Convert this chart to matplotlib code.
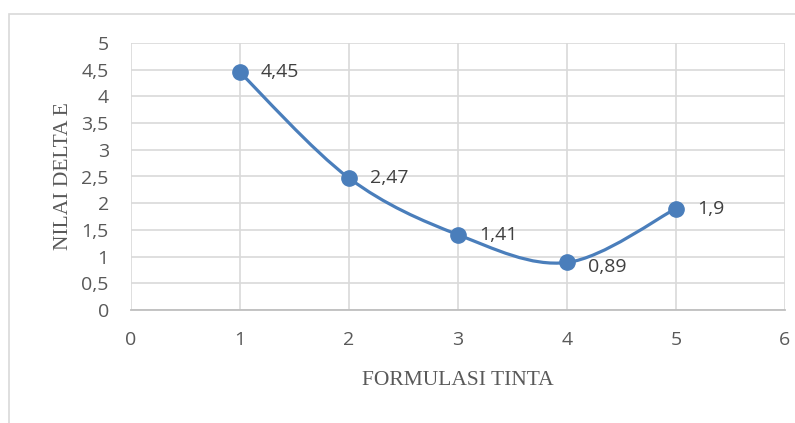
import matplotlib
matplotlib.use("Agg")
import matplotlib.pyplot as plt
import numpy as np
from matplotlib.path import Path
from matplotlib.patches import PathPatch, Rectangle

formulasi = [1, 2, 3, 4, 5]
delta_e = [4.45, 2.47, 1.41, 0.89, 1.9]
labels = ["4,45", "2,47", "1,41", "0,89", "1,9"]
x_ticks = [0, 1, 2, 3, 4, 5, 6]
y_ticks = [0, 0.5, 1, 1.5, 2, 2.5, 3, 3.5, 4, 4.5, 5]

BLUE = "#4a7ebb"
GRID = "#d9d9d9"
TEXT = "#595959"

fig = plt.figure(figsize=(7.95, 4.23), dpi=100)
ax = fig.add_axes([131 / 795, 1 - 310 / 423, (785 - 131) / 795, (310 - 43) / 423])

# chart frame
fig.patches.append(Rectangle((9 / 795, -0.05), 1.1, 1 - 14 / 423 + 0.05,
                             transform=fig.transFigure, fill=False,
                             edgecolor="#d9d9d9", linewidth=1.2))

# smoothed line (Catmull-Rom style cubic Bezier segments)
pts = np.column_stack([formulasi, delta_e]).astype(float)
ext = np.vstack([pts[0], pts, pts[-1]])
verts = [tuple(pts[0])]
codes = [Path.MOVETO]
for i in range(len(pts) - 1):
    p0, p1, p2, p3 = ext[i], ext[i + 1], ext[i + 2], ext[i + 3]
    c1 = p1 + (p2 - p0) / 6.0
    c2 = p2 - (p3 - p1) / 6.0
    verts += [tuple(c1), tuple(c2), tuple(p2)]
    codes += [Path.CURVE4] * 3
ax.add_patch(PathPatch(Path(verts, codes), facecolor="none", edgecolor=BLUE,
                       linewidth=2.3, zorder=3, capstyle="round"))
ax.plot(formulasi, delta_e, linestyle="none", marker="o", markersize=11,
        color=BLUE, zorder=4)

for x, y, t in zip(formulasi, delta_e, labels):
    dy = -3 if t == "0,89" else 0
    ax.annotate(t, (x, y), xytext=(15, dy), textcoords="offset points",
                ha="left", va="center", fontsize=14, color="#404040",
                family="Open Sans")

ax.set_xlim(0, 6)
ax.set_ylim(0, 5)
ax.set_xticks(x_ticks)
ax.set_yticks(y_ticks)
ax.set_xticklabels([str(v) for v in x_ticks])
ax.set_yticklabels([("%g" % v).replace(".", ",") for v in y_ticks])
ax.grid(True, color=GRID, linewidth=1.2)
ax.set_axisbelow(True)
for s in ["top", "right", "left"]:
    ax.spines[s].set_visible(False)
ax.spines["bottom"].set_color("#bfbfbf")
ax.spines["bottom"].set_linewidth(1.3)
ax.tick_params(length=0, labelsize=14, labelcolor=TEXT)
for lab in ax.get_xticklabels() + ax.get_yticklabels():
    lab.set_family("Open Sans")
ax.tick_params(axis="x", pad=15)
ax.tick_params(axis="y", pad=16)

ax.set_xlabel("FORMULASI TINTA", family="Liberation Serif", fontsize=15.5,
              color=TEXT, labelpad=16)
ax.set_ylabel("NILAI DELTA E", family="Liberation Serif", fontsize=15.5,
              color=TEXT, labelpad=6)

fig.savefig("out.png", dpi=100, facecolor="white")
